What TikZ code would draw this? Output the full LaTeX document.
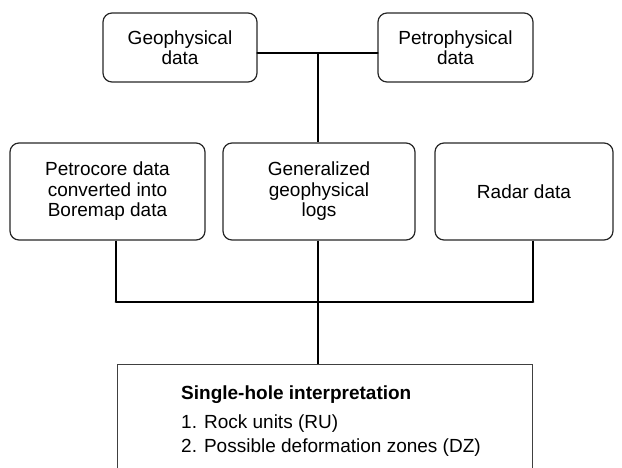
\documentclass[tikz,border=0pt]{standalone}
\usepackage{fontspec}
\setmainfont{Liberation Sans}
\begin{document}
\begin{tikzpicture}[x=1pt,y=-1pt,
  databox/.style={draw=black!85, line width=1.2pt, rounded corners=9pt, align=center,
    inner sep=0pt, font=\fontsize{19}{20.5}\selectfont, text=black},
  resbox/.style={draw=black!75, line width=1pt, inner sep=0pt},
  bus/.style={line width=2.8pt, line cap=round, line join=round},
  stem/.style={line width=2.2pt},
  txt/.style={inner sep=0pt, anchor=base west, font=\fontsize{19}{20.5}\selectfont}]
\useasboundingbox (0,0) rectangle (622,467);
\clip (0,0) rectangle (622,467);
% top row
\node[databox, minimum width=154pt, minimum height=69pt] (geo) at (180,47.5) {Geophysical\\data};
\node[databox, minimum width=155pt, minimum height=69pt] (petro) at (455.5,47.5) {Petrophysical\\data};
% middle row
\node[databox, minimum width=195pt, minimum height=97pt] (core) at (107.5,191.5) {Petrocore data\\converted into\\Boremap data};
\node[databox, minimum width=192pt, minimum height=97pt] (mid) at (319,191.5) {Generalized\\geophysical\\logs};
\node[databox, minimum width=178pt, minimum height=97pt] (radar) at (524,191.5) {Radar data};
% result box (cut by the lower edge)
\node[resbox, minimum width=415pt, minimum height=140pt, anchor=north] (sh) at (324.5,364) {};
\node[txt, font=\fontsize{19}{20.5}\selectfont\bfseries] (t1) at (181,399) {Single-hole interpretation};
\node[txt] (t2) at (181,428) {1. Rock units (RU)};
\node[txt] (t3) at (181,452) {2. Possible deformation zones (DZ)};
% junctions
\coordinate (jt) at (318,53);
\coordinate (bl) at (116,302);
\coordinate (bm) at (318,302);
\coordinate (br) at (533,302);
% connectors
\draw[bus] (geo.east |- jt) -- (petro.west |- jt);
\draw[stem] (jt) -- (mid.north -| jt);
\draw[stem] (core.south -| bl) -- (bl);
\draw[stem] (mid.south -| bm) -- (bm);
\draw[stem] (radar.south -| br) -- (br);
\draw[bus] (bl) -- (br);
\draw[stem] (bm) -- (sh.north -| bm);
\end{tikzpicture}
\end{document}
